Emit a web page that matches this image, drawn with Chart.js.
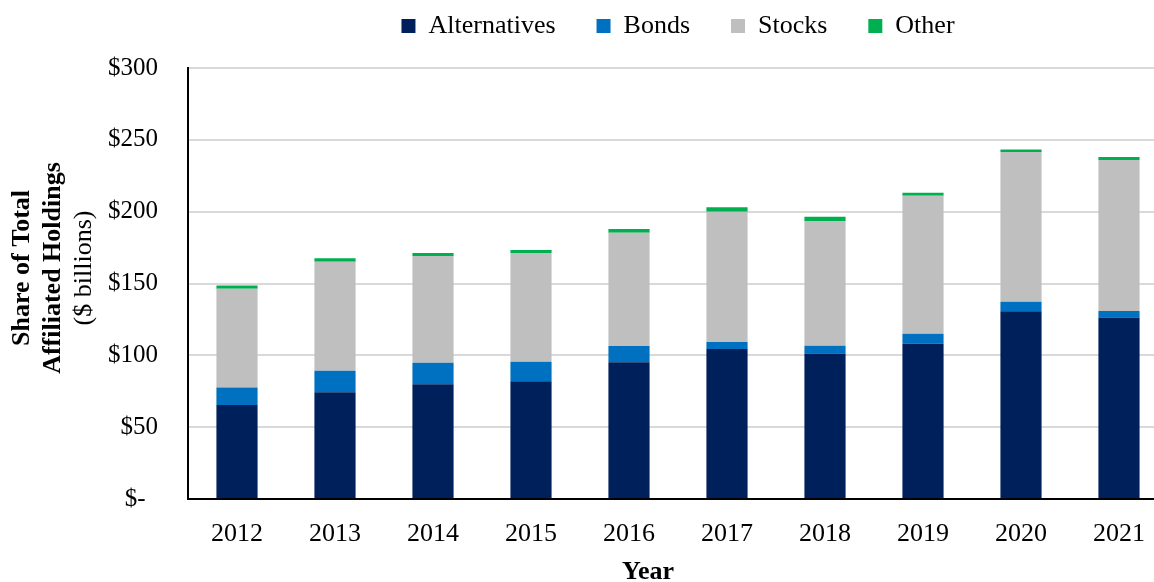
<!DOCTYPE html>
<html>
<head>
<meta charset="utf-8">
<script src="https://cdn.jsdelivr.net/npm/chart.js@4"></script>
<style>
  html, body { margin: 0; padding: 0; background: #fff; overflow: hidden; }
  #wrap { width: 1154px; height: 582px; overflow: hidden; }
</style>
</head>
<body>
<div id="wrap"><canvas id="holdingsChart" width="1170" height="582" style="width:1170px;height:582px"></canvas></div>
<script>
// data ($ billions)
var years = ['2012', '2013', '2014', '2015', '2016', '2017', '2018', '2019', '2020', '2021'];
var alternatives = [65.5, 74.3, 79.9, 81.9, 95.1, 104.4, 101.2, 108.1, 130.6, 126.4];
var bonds = [12.1, 14.9, 15.0, 13.7, 11.4, 4.9, 5.5, 7.0, 6.7, 4.4];
var stocks = [68.7, 75.9, 74.3, 75.7, 78.9, 90.7, 86.8, 96.0, 104.2, 105.1];
var other = [2.3, 2.5, 2.1, 2.1, 2.6, 3.0, 3.0, 2.1, 1.8, 2.1];
var yTicks = [0, 50, 100, 150, 200, 250, 300];

var serif = "'Liberation Serif', 'Times New Roman', serif";

// axis titles drawn by hand (mixed bold / normal lines)
var axisTitles = {
    id: 'axisTitles',
    afterDraw: function (chart) {
        var c = chart.ctx;
        var midY = 268;
        c.save();
        c.fillStyle = '#000';
        c.textAlign = 'center';
        c.textBaseline = 'middle';
        c.translate(0, midY);
        c.rotate(-Math.PI / 2);
        c.font = 'bold 26px ' + serif;
        c.fillText('Share of Total', 0, 22);
        c.fillText('Affiliated Holdings', 0, 53);
        c.font = '26px ' + serif;
        c.fillText('($ billions)', 0, 84);
        c.restore();

        c.save();
        c.fillStyle = '#000';
        c.textAlign = 'center';
        c.textBaseline = 'middle';
        c.font = 'bold 26px ' + serif;
        c.fillText('Year', 648, 572);
        c.restore();
    }
};

var ctx = document.getElementById('holdingsChart').getContext('2d');
var chart = new Chart(ctx, {
    type: 'bar',
    data: {
        labels: years,
        datasets: [
            { label: 'Alternatives', data: alternatives, backgroundColor: '#00205B' },
            { label: 'Bonds', data: bonds, backgroundColor: '#0070C0' },
            { label: 'Stocks', data: stocks, backgroundColor: '#BFBFBF' },
            { label: 'Other', data: other, backgroundColor: '#00B050' }
        ]
    },
    options: {
        responsive: false,
        animation: false,
        devicePixelRatio: 1,
        layout: { padding: { top: -28, right: 2, left: 0, bottom: 0 } },
        datasets: {
            bar: { categoryPercentage: 1, barPercentage: 0.42, borderWidth: 0 }
        },
        plugins: {
            legend: {
                position: 'top',
                fullSize: false,
                labels: {
                    color: '#000',
                    font: { family: serif, size: 26 },
                    boxWidth: 14,
                    boxHeight: 14,
                    padding: 41
                }
            },
            tooltip: { enabled: false }
        },
        scales: {
            x: {
                stacked: true,
                grid: { display: false },
                border: { color: '#000', width: 2 },
                ticks: { color: '#000', font: { family: serif, size: 26 }, padding: 12 },
                afterFit: function (s) { s.height = 83; }
            },
            y: {
                stacked: true,
                min: 0,
                max: 300,
                afterBuildTicks: function (s) {
                    s.ticks = yTicks.map(function (v) { return { value: v }; });
                },
                grid: { color: '#D9D9D9', lineWidth: 2, drawTicks: false },
                border: { color: '#000', width: 2 },
                ticks: {
                    color: '#000',
                    font: { family: serif, size: 25 },
                    padding: 30,
                    callback: function (v) { return v === 0 ? '$-  ' : '$' + v; }
                },
                afterFit: function (s) { s.width = 188; }
            }
        }
    },
    plugins: [axisTitles]
});

// legend row sits high, plot starts lower: fix the legend box height
var legendFit = chart.legend.fit;
chart.legend.fit = function () {
    legendFit.call(this);
    this.height = 96;
};
chart.update();
</script>
</body>
</html>
